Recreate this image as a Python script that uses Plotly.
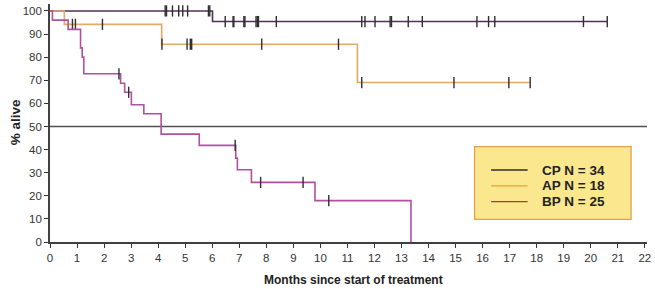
import plotly.graph_objects as go

# ---------------- data ----------------
cp_times = [0, 6.01, 20.61]
cp_surv = [100, 95.4, 95.4]
cp_censor = [4.26, 4.31, 4.53, 4.76, 4.91, 5.09, 5.86, 5.91,
             6.48, 6.77, 6.80, 7.17, 7.21, 7.62, 7.67, 7.71, 8.37,
             11.53, 11.65, 12.02, 12.58, 12.63, 13.25, 13.77,
             15.79, 16.22, 16.45, 19.73, 20.61]

ap_times = [0, 0.53, 4.13, 11.37, 17.76]
ap_surv = [100, 94.2, 85.6, 69.0, 69.0]
ap_censor = [0.83, 0.94, 1.94, 4.14, 5.07, 5.19, 5.24, 7.83, 10.67,
             11.53, 14.94, 16.97, 17.76]

bp_times = [0, 0.09, 0.67, 1.13, 1.19, 1.25, 2.61, 2.76, 3.01, 3.47,
            4.11, 5.52, 6.87, 6.93, 7.45, 9.80, 13.35]
bp_surv = [100, 96, 92, 84, 80, 72.8, 68.7, 64.8, 59.4, 55.5,
           46.7, 41.8, 36.3, 31.3, 25.8, 17.9, 0]
bp_censor = [2.55, 2.91, 6.85, 7.79, 9.36, 10.31]

legend_labels = ["CP N = 34", "AP N = 18", "BP N = 25"]
x_ticks = list(range(0, 23))
y_ticks = list(range(0, 101, 10))

# ---------------- styling ----------------
W, H = 655, 289
L, R, T, B = 50, 5, 4, 47
FONT = "Liberation Sans, Arial, sans-serif"
cp_color = "#4e3353"
ap_color = "#e2aa68"
bp_color = "#b2509f"
legend_line_colors = ["#3a2a2e", "#e8a040", "#a83848"]
tick_color = "#333333"
censor_color = "#2f2f2f"


def surv_at(t, times, surv):
    s = surv[0]
    for ti, si in zip(times, surv):
        if t >= ti:
            s = si
    return s


def px_x(p):
    return (p - L) / (W - L - R)


def px_y(p):
    return (H - B - p) / (H - T - B)


fig = go.Figure()

for times, surv, cens, col in [(cp_times, cp_surv, cp_censor, cp_color),
                               (ap_times, ap_surv, ap_censor, ap_color),
                               (bp_times, bp_surv, bp_censor, bp_color)]:
    fig.add_trace(go.Scatter(x=times, y=surv, mode="lines",
                             line=dict(color=col, width=1.6, shape="hv"),
                             showlegend=False, hoverinfo="skip"))
    fig.add_trace(go.Scatter(x=cens, y=[surv_at(t, times, surv) for t in cens],
                             mode="markers",
                             marker=dict(symbol="line-ns-open", size=8,
                                         color=censor_color,
                                         line=dict(color=censor_color, width=1.4)),
                             showlegend=False, hoverinfo="skip"))

# 50% reference line
fig.add_shape(type="line", xref="paper", yref="y", x0=0, x1=1, y0=50, y1=50,
              line=dict(color="#505050", width=1.6), layer="below")

# legend box (drawn)
fig.add_shape(type="rect", xref="paper", yref="paper",
              x0=px_x(476.7), x1=px_x(634), y0=px_y(219.3), y1=px_y(146.7),
              fillcolor="#fbe88e", line=dict(color="#e0a050", width=1.3))
row_y = [170, 185.8, 201.7]
for lab, lc, ry in zip(legend_labels, legend_line_colors, row_y):
    fig.add_shape(type="line", xref="paper", yref="paper",
                  x0=px_x(493.3), x1=px_x(530), y0=px_y(ry), y1=px_y(ry),
                  line=dict(color=lc, width=1.3))
    fig.add_annotation(xref="paper", yref="paper", x=px_x(542.5), y=px_y(ry),
                       text="<b>" + lab + "</b>", showarrow=False,
                       xanchor="left", yanchor="middle",
                       font=dict(family=FONT, size=13.5, color="#222222"))

# axis titles
fig.add_annotation(xref="paper", yref="paper", x=px_x(355), y=px_y(280),
                   text="<b>Months since start of treatment</b>", showarrow=False,
                   xanchor="center", yanchor="middle",
                   font=dict(family=FONT, size=12, color="#222222"))
fig.add_annotation(xref="paper", yref="paper", x=px_x(15), y=px_y(122),
                   text="<b>% alive</b>", showarrow=False, textangle=-90,
                   xanchor="center", yanchor="middle",
                   font=dict(family=FONT, size=13.5, color="#222222"))

fig.update_layout(
    width=W, height=H,
    margin=dict(l=L, r=R, t=T, b=B),
    paper_bgcolor="white", plot_bgcolor="white",
    showlegend=False,
    font=dict(family=FONT, size=12, color=tick_color),
)
fig.update_xaxes(range=[0, 22.08], tickvals=x_ticks, ticktext=[str(v) for v in x_ticks],
                 ticks="outside", ticklen=4, tickcolor=tick_color, tickwidth=1,
                 showline=True, linecolor="#404040", linewidth=1.6,
                 showgrid=False, zeroline=False,
                 tickfont=dict(family=FONT, size=11.5, color=tick_color))
fig.update_yaxes(range=[0, 103], tickvals=y_ticks, ticktext=[str(v) for v in y_ticks],
                 ticks="outside", ticklen=4, tickcolor=tick_color, tickwidth=1,
                 showline=True, linecolor="#404040", linewidth=1.6,
                 showgrid=False, zeroline=False,
                 tickfont=dict(family=FONT, size=11.5, color=tick_color))

fig.write_html("out.html", config={"displayModeBar": False},
               post_script="document.body.style.margin='0';document.body.style.overflow='hidden';")
